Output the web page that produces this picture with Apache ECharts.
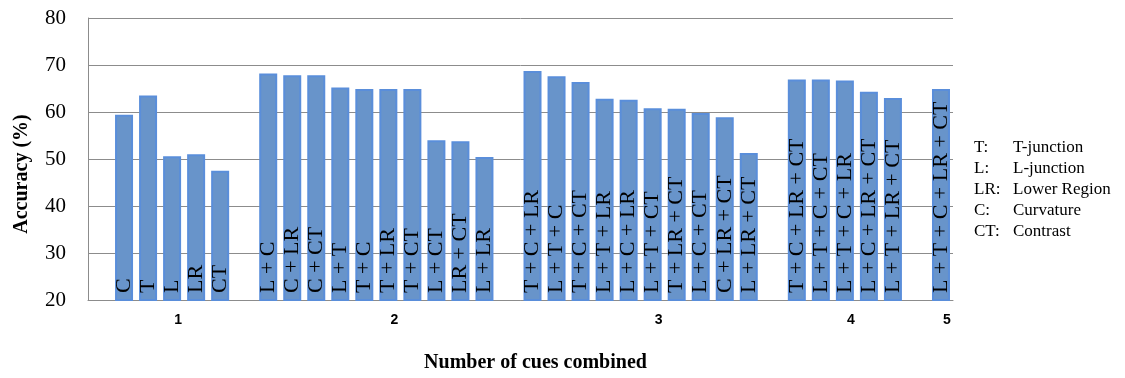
<!DOCTYPE html>
<html>
<head>
<meta charset="utf-8">
<script src="https://cdn.jsdelivr.net/npm/echarts@6/dist/echarts.min.js"></script>
<style>
  html, body { margin: 0; padding: 0; background: #fff; }
  #chart { width: 1125px; height: 378px; }
</style>
</head>
<body>
<div id="chart"></div>
<script>
// Accuracy of each cue combination, grouped by how many cues are combined
const cues1 = ['C', 'T', 'L', 'LR', 'CT'];
const acc1 = [59.4, 63.5, 50.6, 51.0, 47.5];

const cues2 = ['L + C', 'C + LR', 'C + CT', 'L + T', 'T + C', 'T + LR', 'T + CT', 'L + CT', 'LR + CT', 'L + LR'];
const acc2 = [68.2, 67.8, 67.8, 65.2, 64.9, 64.9, 64.9, 54.0, 53.8, 50.4];

const cues3 = ['T + C + LR', 'L + T + C', 'T + C + CT', 'L + T + LR', 'L + C + LR', 'L + T + CT', 'T + LR + CT', 'L + C + CT', 'C + LR + CT', 'L + LR + CT'];
const acc3 = [68.7, 67.6, 66.4, 62.8, 62.6, 60.8, 60.7, 59.8, 58.9, 51.3];

const cues4 = ['T + C + LR + CT', 'L + T + C + CT', 'L + T + C + LR', 'L + C + LR + CT', 'L + T + LR + CT'];
const acc4 = [66.9, 66.9, 66.7, 64.3, 63.0];

const cues5 = ['L + T + C + LR + CT'];
const acc5 = [64.9];

// Tick labels along the category axis (one entry per slot, gaps included)
const xTickLabels = [
  '', '', '', '1', '', '', '',
  '', '', '', '', '', '2', '', '', '', '', '',
  '', '', '', '', '', '3', '', '', '', '', '',
  '', '', '4', '', '', '',
  '5'
];

const yTicks = { min: 20, max: 80, interval: 10 };

const legendKeys = ['T:', 'L:', 'LR:', 'C:', 'CT:'];
const legendDescs = ['T-junction', 'L-junction', 'Lower Region', 'Curvature', 'Contrast'];

// Build the slot list: an empty slot before every group
const groups = [
  { cues: cues1, acc: acc1 },
  { cues: cues2, acc: acc2 },
  { cues: cues3, acc: acc3 },
  { cues: cues4, acc: acc4 },
  { cues: cues5, acc: acc5 }
];
const slots = [];
const values = [];
const barNames = [];
groups.forEach((g, k) => {
  slots.push('gap' + k);
  values.push('-');
  barNames.push('');
  g.cues.forEach((c, i) => {
    slots.push(c);
    values.push(g.acc[i]);
    barNames.push(c);
  });
});

const serif = '"Liberation Serif", "Times New Roman", serif';

const legendGraphics = [];
legendKeys.forEach((k, i) => {
  legendGraphics.push({
    type: 'text', left: 974, top: 139 + i * 21,
    style: { text: k, font: '17px ' + serif, fill: '#000' }
  });
  legendGraphics.push({
    type: 'text', left: 1013, top: 139 + i * 21,
    style: { text: legendDescs[i], font: '17px ' + serif, fill: '#000' }
  });
});

const chart = echarts.init(document.getElementById('chart'));
chart.setOption({
  animation: false,
  backgroundColor: '#fff',
  grid: { left: 88, right: 172, top: 18, bottom: 78 },
  xAxis: {
    type: 'category',
    data: slots,
    name: 'Number of cues combined',
    nameLocation: 'middle',
    nameGap: 53,
    nameTextStyle: {
      fontFamily: serif, fontWeight: 'bold', fontSize: 20, color: '#000',
      padding: [0, 0, 0, 30]
    },
    axisLine: { show: true, lineStyle: { color: '#8c8c8c', width: 1 } },
    axisTick: { show: false },
    axisLabel: {
      interval: 0,
      margin: 13,
      fontFamily: '"Liberation Sans", Arial, sans-serif',
      fontWeight: 'bold',
      fontSize: 14,
      color: '#000',
      padding: [0, 0, 0, 12],
      formatter: (v, i) => xTickLabels[i]
    },
    splitLine: { show: false }
  },
  yAxis: {
    type: 'value',
    min: yTicks.min,
    max: yTicks.max,
    interval: yTicks.interval,
    name: 'Accuracy (%)',
    nameLocation: 'middle',
    nameGap: 56,
    nameTextStyle: {
      fontFamily: serif, fontWeight: 'bold', fontSize: 20, color: '#000',
      padding: [0, 30, 0, 0]
    },
    axisLine: { show: true, lineStyle: { color: '#8c8c8c', width: 1 } },
    axisTick: { show: false },
    axisLabel: { fontFamily: serif, fontSize: 21, color: '#000', margin: 22 },
    splitLine: { show: true, lineStyle: { color: '#8c8c8c', width: 1 } }
  },
  series: [{
    type: 'bar',
    data: values,
    barWidth: 18,
    itemStyle: { color: '#6894ca', borderColor: '#5a8eda', borderWidth: 2 },
    label: {
      show: true,
      position: 'insideBottom',
      rotate: 90,
      align: 'left',
      verticalAlign: 'middle',
      distance: 8,
      fontFamily: serif,
      fontSize: 22,
      color: '#000',
      formatter: p => barNames[p.dataIndex]
    }
  }],
  graphic: legendGraphics
});
</script>
</body>
</html>
